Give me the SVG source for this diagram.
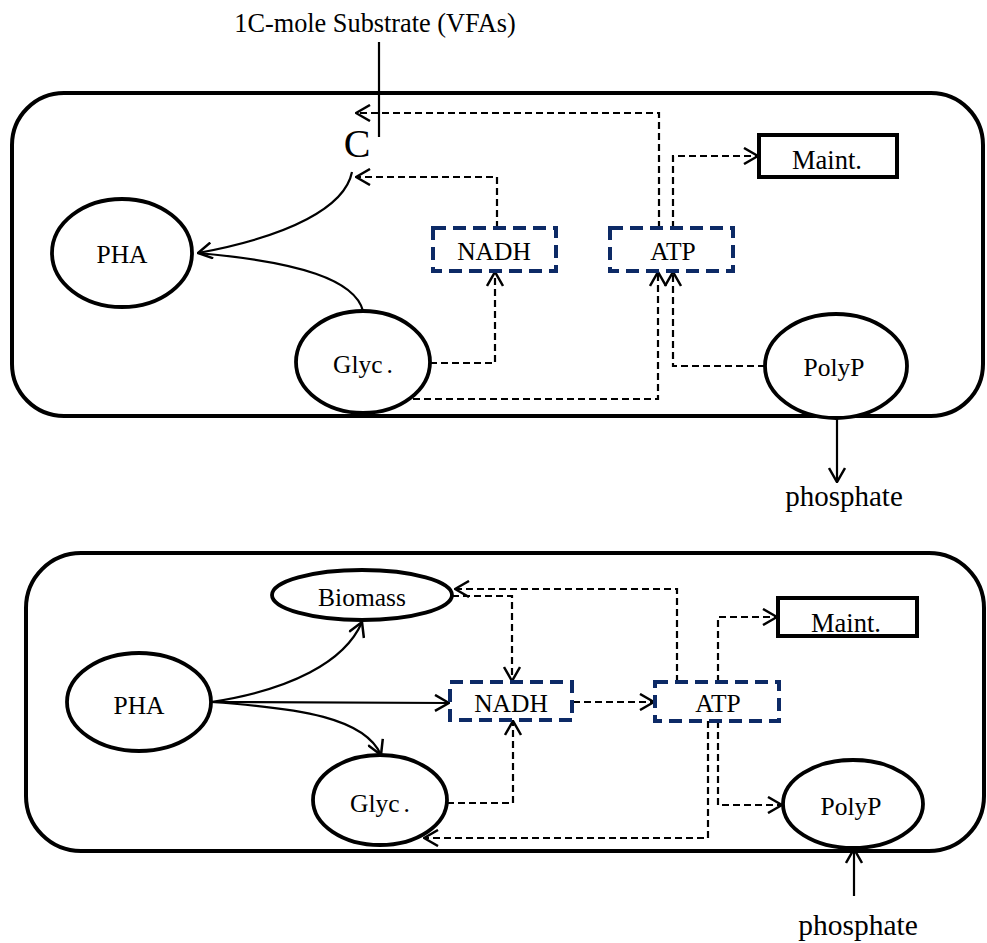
<svg xmlns="http://www.w3.org/2000/svg" width="987" height="943" viewBox="0 0 987 943">
<style>
text{font-family:"Liberation Serif","Times New Roman",serif;fill:#000;text-anchor:middle}
.lbl{font-size:25.5px}
.cell{fill:none;stroke:#000;stroke-width:4}
.node{fill:#fff;stroke:#000;stroke-width:3.8}
.pool{fill:#fff;stroke:#0d2a66;stroke-width:4;stroke-dasharray:13 7}
.maint{fill:#fff;stroke:#000;stroke-width:4}
.dash{fill:none;stroke:#000;stroke-width:2.2;stroke-dasharray:7 4;marker-end:url(#arr)}
.solid{fill:none;stroke:#000;stroke-width:2.2}
.sarr{fill:none;stroke:#000;stroke-width:2.2;marker-end:url(#arr)}
</style>
<defs>
<marker id="arr" viewBox="0 0 16 18" refX="15" refY="9" markerWidth="16" markerHeight="18" markerUnits="userSpaceOnUse" orient="auto">
<path d="M1,1 L15,9 L1,17" fill="none" stroke="#000" stroke-width="2.5" stroke-dasharray="none"/>
</marker>
</defs>
<rect width="987" height="943" fill="#fff"/>

<g id="cell-top"><rect class="cell" x="12" y="93" width="971" height="323" rx="52"/></g>
<g id="cell-bottom"><rect class="cell" x="26" y="553" width="958" height="298" rx="55"/></g>

<g id="connectors">
<path class="solid" d="M379,42 V137"/>
<path class="sarr" d="M352,172 C345,207 290,236 198,253"/>
<path class="solid" d="M363,311 C355,280 300,262 198,253"/>
<path class="dash" d="M659,228 V113 H356"/>
<path class="dash" d="M497,228 V177 H356"/>
<path class="dash" d="M673,228 V156 H758"/>
<path class="dash" d="M430,363 H495 V272"/>
<path class="dash" d="M413,399 H658 V272"/>
<path class="dash" d="M765,366 H673 V272"/>
<path class="sarr" d="M837,418 V482"/>
<path class="sarr" d="M211,702 C290,690 345,662 362,622"/>
<path class="sarr" d="M211,702 C300,708 365,718 381,755"/>
<path class="sarr" d="M211,702 L449,703"/>
<path class="dash" d="M452,596 H512 V681"/>
<path class="dash" d="M677,682 V589 H455"/>
<path class="dash" d="M447,803 H513 V721"/>
<path class="dash" d="M573,702 H654"/>
<path class="dash" d="M718,682 V617 H777"/>
<path class="dash" d="M718,721 V805 H782"/>
<path class="dash" d="M708,721 V838 H424"/>
<path class="sarr" d="M854,896 V849"/>
</g>

<g id="substrate"><text x="375" y="32" style="font-size:26.3px">1C-mole Substrate (VFAs)</text></g>
<g id="C"><text x="357" y="157" style="font-size:40px">C</text></g>

<g id="PHA1"><ellipse class="node" cx="122" cy="253" rx="70" ry="54"/><text class="lbl" x="122" y="263">PHA</text></g>
<g id="NADH1"><rect class="pool" x="433" y="228" width="123" height="43"/><text class="lbl" x="494" y="260">NADH</text></g>
<g id="ATP1"><rect class="pool" x="610" y="228" width="123" height="43"/><text class="lbl" x="673" y="260">ATP</text></g>
<g id="Maint1"><rect class="maint" x="759" y="135" width="138" height="42"/><text x="827" y="169" style="font-size:26.5px">Maint.</text></g>
<g id="Glyc1"><ellipse class="node" cx="363" cy="362" rx="67" ry="51"/><text class="lbl" x="363" y="373">Glyc<tspan dx="4">.</tspan></text></g>
<g id="PolyP1"><ellipse class="node" cx="836" cy="366" rx="71" ry="52"/><text class="lbl" x="834" y="376">PolyP</text></g>
<g id="phosphate1"><text x="844" y="506" style="font-size:29px">phosphate</text></g>

<g id="PHA2"><ellipse class="node" cx="139" cy="702" rx="72" ry="49"/><text class="lbl" x="139" y="714">PHA</text></g>
<g id="Biomass"><ellipse class="node" cx="362" cy="595" rx="90" ry="25"/><text class="lbl" x="362" y="606">Biomass</text></g>
<g id="NADH2"><rect class="pool" x="450" y="682" width="122" height="38"/><text class="lbl" x="511" y="712">NADH</text></g>
<g id="ATP2"><rect class="pool" x="655" y="682" width="124" height="39"/><text class="lbl" x="718" y="712">ATP</text></g>
<g id="Maint2"><rect class="maint" x="778" y="598" width="139" height="38"/><text x="846" y="632" style="font-size:26.5px">Maint.</text></g>
<g id="Glyc2"><ellipse class="node" cx="380" cy="800" rx="67" ry="45"/><text class="lbl" x="380" y="812">Glyc<tspan dx="4">.</tspan></text></g>
<g id="PolyP2"><ellipse class="node" cx="853" cy="804" rx="70" ry="44"/><text class="lbl" x="851" y="815">PolyP</text></g>
<g id="phosphate2"><text x="858" y="935" style="font-size:29.5px">phosphate</text></g>
</svg>
